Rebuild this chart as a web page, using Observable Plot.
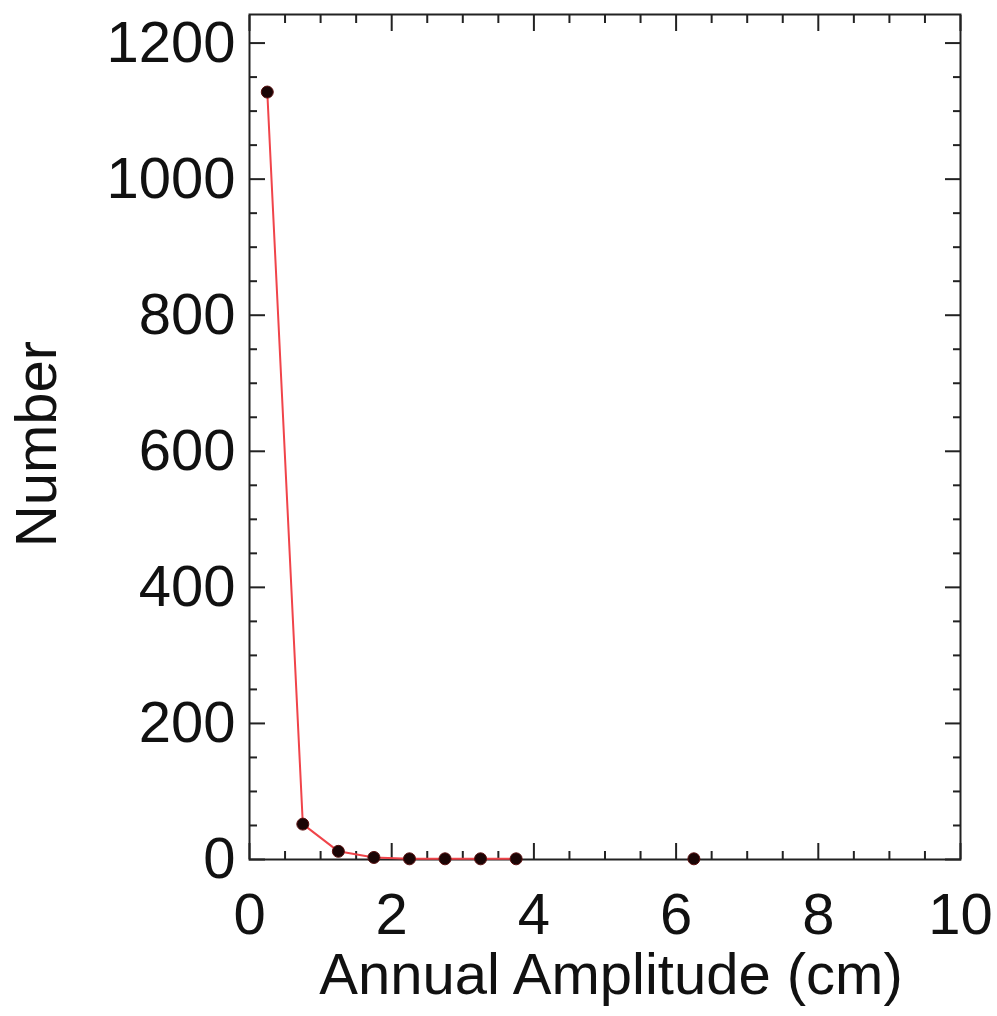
<!DOCTYPE html>
<html>
<head>
<meta charset="utf-8">
<script src="https://cdn.jsdelivr.net/npm/d3@7"></script>
<script src="https://cdn.jsdelivr.net/npm/@observablehq/plot@0.6"></script>
<style>
  html, body { margin: 0; padding: 0; background: #fff; }
  #chart { width: 997px; height: 1016px; }
</style>
</head>
<body>
<div id="chart"></div>
<script>
// Bin centres (cm) and counts; null = empty bin (line broken there)
const binCenters = [0.25, 0.75, 1.25, 1.75, 2.25, 2.75, 3.25, 3.75, 4.25, 4.75, 5.25, 5.75, 6.25];
const counts     = [1128, 52,   12,   3,    1,    1,    1,    1,    null, null, null, null, 1];

const xMajorTicks = [0, 2, 4, 6, 8, 10];
const xMinorTicks = [0.5, 1, 1.5, 2.5, 3, 3.5, 4.5, 5, 5.5, 6.5, 7, 7.5, 8.5, 9, 9.5];
const yMajorTicks = [0, 200, 400, 600, 800, 1000, 1200];
const yMinorTicks = [50, 100, 150, 250, 300, 350, 450, 500, 550, 650, 700, 750, 850, 900, 950, 1050, 1100, 1150];

const xLabel = "Annual Amplitude (cm)";
const yLabel = "Number";

const data = binCenters.map((x, i) => ({x, n: counts[i]}));
const points = data.filter(d => d.n != null);

const FONT = "'Liberation Sans', Arial, Helvetica, sans-serif";
const FS = 58;
const fmt = d => String(d);

const tickOpts = {fill: "none", label: null, stroke: "#222", strokeWidth: 2};

const chart = Plot.plot({
  width: 997,
  height: 1016,
  marginLeft: 249,
  marginRight: 37,
  marginTop: 14,
  marginBottom: 157,
  style: {fontFamily: FONT, fontSize: FS + "px", color: "#111", background: "#fff"},
  x: {domain: [0, 10], axis: null},
  y: {domain: [0, 1242], axis: null},
  marks: [
    // inward ticks on all four sides
    Plot.axisX(xMajorTicks, {anchor: "bottom", tickSize: -16, ...tickOpts}),
    Plot.axisX(xMinorTicks, {anchor: "bottom", tickSize: -8, ...tickOpts}),
    Plot.axisX(xMajorTicks, {anchor: "top", tickSize: -16, ...tickOpts}),
    Plot.axisX(xMinorTicks, {anchor: "top", tickSize: -8, ...tickOpts}),
    Plot.axisY(yMajorTicks, {anchor: "left", tickSize: -16, ...tickOpts}),
    Plot.axisY(yMinorTicks, {anchor: "left", tickSize: -8, ...tickOpts}),
    Plot.axisY(yMajorTicks, {anchor: "right", tickSize: -16, ...tickOpts}),
    Plot.axisY(yMinorTicks, {anchor: "right", tickSize: -8, ...tickOpts}),
    // tick labels
    Plot.axisX(xMajorTicks, {anchor: "bottom", tickSize: 0, tickPadding: 33, tickFormat: fmt, label: null, fontSize: FS, fill: "#111"}),
    Plot.axisY(yMajorTicks, {anchor: "left", tickSize: 0, tickPadding: 14, tickFormat: fmt, label: null, fontSize: FS, fill: "#111"}),
    // axis titles
    Plot.text([xLabel], {frameAnchor: "bottom", dy: 93, lineAnchor: "top", fontSize: 58, fill: "#111", dx: 6}),
    Plot.text([yLabel], {frameAnchor: "left", textAnchor: "middle", dx: -212, rotate: -90, lineAnchor: "middle", fontSize: 58, fill: "#111", dy: 7}),
    // frame
    Plot.frame({stroke: "#222", strokeWidth: 2}),
    // data
    Plot.line(data, {x: "x", y: "n", stroke: "#f0444a", strokeWidth: 2}),
    Plot.dot(points, {x: "x", y: "n", r: 6, fill: "#1a0505", stroke: "#5a1010", strokeWidth: 1})
  ]
});
document.getElementById("chart").appendChild(chart);
</script>
</body>
</html>
